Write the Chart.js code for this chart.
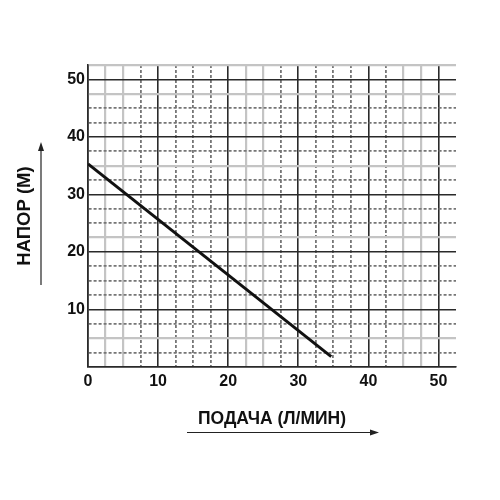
<!DOCTYPE html>
<html><head><meta charset="utf-8">
<script src="https://cdn.jsdelivr.net/npm/chart.js@4"></script>
<style>html,body{margin:0;padding:0;background:#fff}#w{width:500px;height:500px;position:relative}</style>
</head><body><div id="w"><canvas id="c" width="500" height="500"></canvas></div>
<script>
// ---- data ----
const flowValues = [0, 34.7];
const headValues = [35.3, 1.8];
const xTickLabels = ['0', '10', '20', '30', '40', '50'];
const yTickLabels = ['10', '20', '30', '40', '50'];
const xTitle = 'ПОДАЧА (Л/МИН)';
const yTitle = 'НАПОР (М)';

// ---- grid line styles, one per 2.5-unit grid line (D dark, G light solid, d dotted, N none) ----
const xGridStyle = ['D','G','G','d','D','d','d','d','D','G','G','d','D','d','d','d','D','d','G','G','D','N'];
const yGridStyle = ['D','d','G','d','D','d','d','d','D','G','d','d','D','d','G','d','D','d','d','G','D','G'];

const STY = {
  D: {color: '#2a2a2a', width: 1.6, dash: []},
  G: {color: '#c4c4c4', width: 2.2, dash: []},
  d: {color: '#767676', width: 1.8, dash: [3, 2]},
  N: {color: 'rgba(0,0,0,0)', width: 0, dash: []}
};
function st(list, ctx) {
  if (!ctx.tick) return STY.D;
  const i = Math.round(ctx.tick.value / 2.5);
  return STY[list[i]] || STY.d;
}

const points = flowValues.map((x, i) => ({x: x, y: headValues[i]}));

const arrows = {
  id: 'arrows',
  afterDraw(chart) {
    const c = chart.ctx;
    c.save();
    c.strokeStyle = '#222';
    c.fillStyle = '#222';
    c.lineWidth = 1.2;
    // vertical arrow
    c.beginPath(); c.moveTo(41, 285); c.lineTo(41, 150); c.stroke();
    c.beginPath(); c.moveTo(41, 142); c.lineTo(38, 151); c.lineTo(44, 151); c.closePath(); c.fill();
    // horizontal arrow
    c.beginPath(); c.moveTo(187, 432.5); c.lineTo(371, 432.5); c.stroke();
    c.beginPath(); c.moveTo(379, 432.5); c.lineTo(370, 429.5); c.lineTo(370, 435.5); c.closePath(); c.fill();
    c.restore();
  }
};

new Chart(document.getElementById('c'), {
  type: 'scatter',
  data: {
    datasets: [{
      data: points,
      showLine: true,
      borderColor: '#111',
      borderWidth: 3,
      pointRadius: 0,
      pointHoverRadius: 0,
      tension: 0
    }]
  },
  options: {
    responsive: false,
    animation: false,
    events: [],
    layout: {padding: {top: 65, right: 44, left: 0, bottom: 0}},
    plugins: {legend: {display: false}, tooltip: {enabled: false}},
    scales: {
      x: {
        type: 'linear', min: 0, max: 52.5,
        afterFit(s) { s.height = 133; },
        ticks: {
          stepSize: 2.5, autoSkip: false, maxRotation: 0, padding: 5,
          color: '#111', font: {family: 'Liberation Sans', size: 16, weight: 'bold'},
          callback: v => xTickLabels.includes(String(v)) ? String(v) : ''
        },
        grid: {
          drawTicks: false,
          color: ctx => st(xGridStyle, ctx).color,
          lineWidth: ctx => st(xGridStyle, ctx).width
        },
        border: {display: true, color: '#2a2a2a', width: 1.6, dash: ctx => st(xGridStyle, ctx).dash},
        title: {
          display: true, text: xTitle, color: '#111',
          font: {family: 'Liberation Sans', size: 17.5, weight: 'bold'},
          padding: {top: 0, bottom: 70}
        }
      },
      y: {
        type: 'linear', min: 0, max: 52.5,
        afterFit(s) { s.width = 88; },
        ticks: {
          stepSize: 2.5, autoSkip: false, padding: 3,
          color: '#111', font: {family: 'Liberation Sans', size: 16, weight: 'bold'},
          callback: v => yTickLabels.includes(String(v)) ? String(v) : ''
        },
        grid: {
          drawTicks: false,
          color: ctx => st(yGridStyle, ctx).color,
          lineWidth: ctx => st(yGridStyle, ctx).width
        },
        border: {display: true, color: '#2a2a2a', width: 1.6, dash: ctx => st(yGridStyle, ctx).dash},
        title: {
          display: true, text: yTitle, color: '#111',
          font: {family: 'Liberation Sans', size: 18.5, weight: 'bold'},
          padding: {top: 14, bottom: 0}
        }
      }
    }
  },
  plugins: [arrows]
});
</script>
</body></html>
